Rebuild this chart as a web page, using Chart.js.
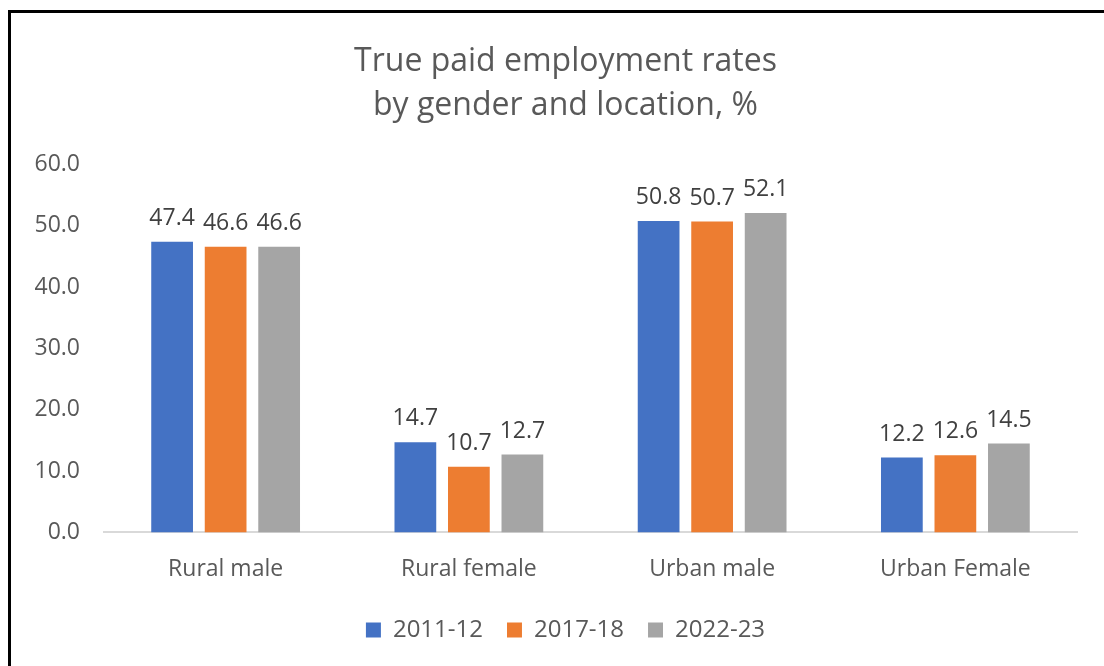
<!DOCTYPE html>
<html>
<head>
<meta charset="utf-8">
<script src="https://cdn.jsdelivr.net/npm/chart.js@4"></script>
<style>
  html, body { margin: 0; padding: 0; background: #fff; overflow: hidden; }
  #frame {
    position: absolute; left: 8px; top: 10px;
    width: 1112px; height: 656px;
    border-left: 3px solid #000; border-top: 3px solid #000;
  }
  #wrap { position: relative; width: 1109px; height: 653px; }
</style>
</head>
<body>
<div id="frame"><div id="wrap"><canvas id="myChart"></canvas></div></div>
<script>
const categories = ['Rural male', 'Rural female', 'Urban male', 'Urban Female'];
const seriesNames = ['2011-12', '2017-18', '2022-23'];
const values2011 = [47.4, 14.7, 50.8, 12.2];
const values2017 = [46.6, 10.7, 50.7, 12.6];
const values2022 = [46.6, 12.7, 52.1, 14.5];
const colors = ['#4472C4', '#ED7D31', '#A5A5A5'];
const fontFam = "'Open Sans', 'Liberation Sans', sans-serif";

// draws value labels above each bar
const barLabels = {
    id: 'barLabels',
    afterDatasetsDraw(chart) {
        const ctx = chart.ctx;
        ctx.save();
        ctx.font = '23px ' + fontFam;
        ctx.fillStyle = '#404040';
        ctx.textAlign = 'center';
        ctx.textBaseline = 'alphabetic';
        chart.data.datasets.forEach((ds, i) => {
            chart.getDatasetMeta(i).data.forEach((bar, j) => {
                ctx.fillText(ds.data[j].toFixed(1), bar.x, bar.y - 17);
            });
        });
        ctx.restore();
    }
};

const allSeries = [values2011, values2017, values2022];
const chart = {
    labels: categories,
    datasets: seriesNames.map((name, i) => ({
        label: name,
        data: allSeries[i],
        backgroundColor: colors[i],
        borderColor: colors[i],
        categoryPercentage: 0.66,
        barPercentage: 0.78
    }))
};

const config = {
    type: 'bar',
    data: chart,
    options: {
        responsive: true,
        maintainAspectRatio: false,
        animation: false,
        layout: { padding: { left: 0, right: 0, top: 16, bottom: 14 } },
        plugins: {
            tooltip: { enabled: false },
            title: {
                display: true,
                text: ['True paid employment rates', 'by gender and location, %'],
                color: '#595959',
                font: { family: fontFam, size: 32, weight: 'normal', lineHeight: 1.4 },
                padding: { top: 10, bottom: 36 }
            },
            legend: {
                position: 'bottom',
                labels: {
                    color: '#595959',
                    font: { family: fontFam, size: 24 },
                    boxWidth: 15,
                    boxHeight: 15,
                    padding: 24
                }
            }
        },
        scales: {
            y: {
                min: 0,
                max: 60,
                afterFit: (scale) => { scale.width = 93; },
                ticks: {
                    stepSize: 10,
                    color: '#595959',
                    font: { family: fontFam, size: 23 },
                    padding: 16,
                    callback: (v) => v.toFixed(1)
                },
                grid: { display: false },
                border: { display: false }
            },
            // empty right-side spacer so the plot ends where the reference does
            yRight: {
                position: 'right',
                min: 0,
                max: 60,
                afterFit: (scale) => { scale.width = 43; },
                ticks: { display: false },
                grid: { display: false },
                border: { display: false }
            },
            x: {
                afterFit: (scale) => { scale.height -= 4; },
                ticks: {
                    color: '#595959',
                    font: { family: fontFam, size: 23 },
                    padding: 15
                },
                grid: { display: false },
                border: { display: true, color: '#D9D9D9', width: 2 }
            }
        }
    },
    plugins: [barLabels]
};

const myChart = new Chart(document.getElementById('myChart'), config);
</script>
</body>
</html>
